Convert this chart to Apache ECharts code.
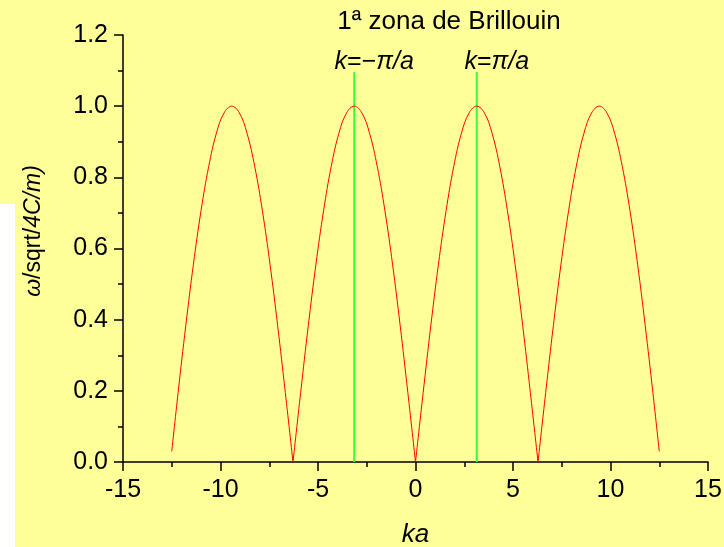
<!DOCTYPE html>
<html>
<head>
<meta charset="utf-8">
<script src="https://cdn.jsdelivr.net/npm/echarts@6/dist/echarts.min.js"></script>
<style>
html,body{margin:0;padding:0;background:#FFFF99;}
#chart{width:724px;height:547px;}
</style>
</head>
<body>
<div id="chart"></div>
<script>
// ka values (x) and normalized frequency (y)
const kaValues = [-12.5, -12.174, -11.781, -11.388, -10.996, -10.603, -10.210, -9.817, -9.425, -9.032, -8.639, -8.247, -7.854, -7.461, -7.069, -6.676, -6.283,
  -5.890, -5.498, -5.105, -4.712, -4.320, -3.927, -3.534, -3.142, -2.749, -2.356, -1.963, -1.571, -1.178, -0.785, -0.393, 0,
  0.393, 0.785, 1.178, 1.571, 1.963, 2.356, 2.749, 3.142, 3.534, 3.927, 4.320, 4.712, 5.105, 5.498, 5.890, 6.283,
  6.676, 7.069, 7.461, 7.854, 8.247, 8.639, 9.032, 9.425, 9.817, 10.210, 10.603, 10.996, 11.388, 11.781, 12.174, 12.5];
const omegaValues = [0.03, 0.195, 0.383, 0.556, 0.707, 0.831, 0.924, 0.981, 1.0, 0.981, 0.924, 0.831, 0.707, 0.556, 0.383, 0.195, 0,
  0.195, 0.383, 0.556, 0.707, 0.831, 0.924, 0.981, 1.0, 0.981, 0.924, 0.831, 0.707, 0.556, 0.383, 0.195, 0,
  0.195, 0.383, 0.556, 0.707, 0.831, 0.924, 0.981, 1.0, 0.981, 0.924, 0.831, 0.707, 0.556, 0.383, 0.195, 0,
  0.195, 0.383, 0.556, 0.707, 0.831, 0.924, 0.981, 1.0, 0.981, 0.924, 0.831, 0.707, 0.556, 0.383, 0.195, 0.03];
// Brillouin zone edges
const zoneEdges = [-3.1416, 3.1416];
const zoneLineTop = 1.096;
const zoneLabels = ['{i|k}{n|=−}{i|π/a}', '{i|k}{n|=}{i|π/a}'];
const titleText = '1ª zona de Brillouin';
const xName = 'ka';
const yNameRich = '{i|ω}{n|/sqrt/}{i|4C/m)}';

const FONT = 'Liberation Sans';

// split curve into branches at the cusps (zeros)
const branches = [];
let cur = [];
for (let i = 0; i < kaValues.length; i++) {
  cur.push([kaValues[i], omegaValues[i]]);
  if (omegaValues[i] === 0 && cur.length > 1) {
    branches.push(cur);
    cur = [[kaValues[i], omegaValues[i]]];
  }
}
if (cur.length > 1) branches.push(cur);

const series = branches.map(b => ({
  type: 'line', data: b, smooth: 0.4, symbol: 'none', silent: true,
  lineStyle: { color: '#ff0000', width: 1 }, z: 3
}));

zoneEdges.forEach((x) => {
  series.push({
    type: 'line', symbol: 'none', silent: true, z: 2,
    lineStyle: { color: '#33ff33', width: 2 },
    data: [[x, 0], [x, zoneLineTop]]
  });
});

series.push({
  type: 'scatter', silent: true, symbolSize: 1, z: 4,
  itemStyle: { color: 'rgba(0,0,0,0)', opacity: 1 },
  data: zoneEdges.map((x, idx) => ({
    value: [x, zoneLineTop],
    label: { formatter: zoneLabels[idx] }
  })),
  label: {
    show: true, position: 'top', distance: -3, offset: [20, 0],
    color: '#000',
    rich: {
      i: { fontFamily: FONT, fontSize: 25, fontStyle: 'italic', color: '#000' },
      n: { fontFamily: FONT, fontSize: 25, color: '#000' }
    }
  }
});

const chart = echarts.init(document.getElementById('chart'));
chart.setOption({
  backgroundColor: '#FFFF99',
  animation: false,
  grid: { left: 123, right: 16, top: 35, bottom: 85, containLabel: false, outerBoundsMode: 'none' },
  xAxis: {
    type: 'value', min: -15, max: 15, interval: 5,
    name: xName, nameLocation: 'middle', nameGap: 60,
    nameTextStyle: { fontFamily: FONT, fontSize: 26, fontStyle: 'italic', color: '#000' },
    axisLine: { show: true, onZero: false, lineStyle: { color: '#000', width: 1.5 } },
    axisTick: { show: true, length: 9, lineStyle: { color: '#000', width: 1.5 } },
    minorTick: { show: true, splitNumber: 2, length: 5, lineStyle: { color: '#000', width: 1.5 } },
    axisLabel: { fontFamily: FONT, fontSize: 25, color: '#000', margin: 16 },
    splitLine: { show: false }
  },
  yAxis: {
    type: 'value', min: 0, max: 1.2, interval: 0.2,
    axisLine: { show: true, onZero: false, lineStyle: { color: '#000', width: 1.5 } },
    axisTick: { show: true, length: 9, lineStyle: { color: '#000', width: 1.5 } },
    minorTick: { show: true, splitNumber: 2, length: 5, lineStyle: { color: '#000', width: 1.5 } },
    axisLabel: { fontFamily: FONT, fontSize: 25, color: '#000', margin: 15, formatter: v => v.toFixed(1) },
    splitLine: { show: false }
  },
  graphic: [
    { type: 'rect', left: 0, top: 204, shape: { width: 15, height: 343 }, style: { fill: '#ffffff' }, z: -1, silent: true },
    { type: 'text', x: 449, y: 22, style: { text: titleText, fontFamily: FONT, fontSize: 26, fill: '#000', align: 'center', verticalAlign: 'middle' } },
    { type: 'text', x: 34, y: 231, rotation: Math.PI / 2,
      style: { text: yNameRich, align: 'center', verticalAlign: 'middle',
        rich: {
          i: { fontFamily: FONT, fontSize: 23, fontStyle: 'italic', fill: '#000' },
          n: { fontFamily: FONT, fontSize: 23, fill: '#000' }
        } } }
  ],
  series: series
});
</script>
</body>
</html>
